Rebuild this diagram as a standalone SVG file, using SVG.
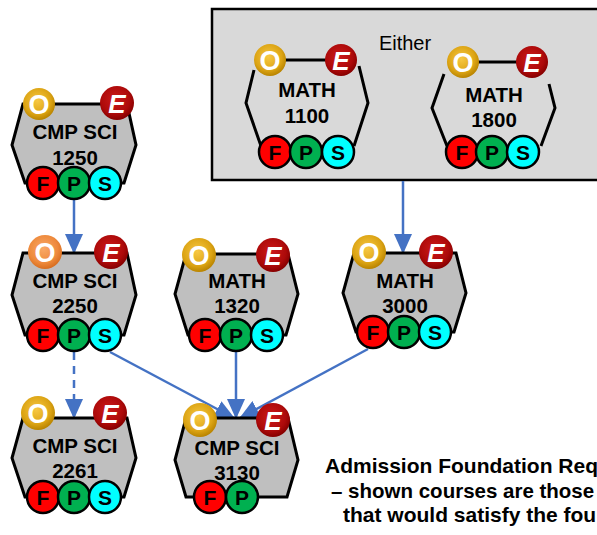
<svg xmlns="http://www.w3.org/2000/svg" width="597" height="535" viewBox="0 0 597 535">
<defs>
<radialGradient id="gO" cx="45%" cy="40%" r="60%">
<stop offset="0" stop-color="#f7c843"/>
<stop offset="0.7" stop-color="#dca414"/>
<stop offset="1" stop-color="#b98400"/>
</radialGradient>
<radialGradient id="gO2" cx="45%" cy="40%" r="60%">
<stop offset="0" stop-color="#f9a868"/>
<stop offset="0.7" stop-color="#ee8a3c"/>
<stop offset="1" stop-color="#d86e20"/>
</radialGradient>
<radialGradient id="gE" cx="45%" cy="40%" r="60%">
<stop offset="0" stop-color="#cc1a1a"/>
<stop offset="0.7" stop-color="#ad0a0a"/>
<stop offset="1" stop-color="#860000"/>
</radialGradient>
<marker id="arr" viewBox="0 0 20 18" refX="19" refY="9" markerWidth="20" markerHeight="18" markerUnits="userSpaceOnUse" orient="auto">
<path d="M0,0 L20,9 L0,18 z" fill="#4472c4"/>
</marker>
</defs>
<style>
.hex{fill:#bfbfbf;stroke:#000;stroke-width:3;stroke-linejoin:miter}
.open{fill:none;stroke:#000;stroke-width:3}
.t{font-family:"Liberation Sans",Arial,sans-serif;font-weight:bold;font-size:20.5px;text-anchor:middle;fill:#000}
.o{fill:url(#gO)}
.o2{fill:url(#gO2)}
.e{fill:url(#gE)}
.ol{font-family:"Liberation Sans",Arial,sans-serif;font-weight:bold;font-size:27px;text-anchor:middle;fill:#fff}
.el{font-family:"Liberation Sans",Arial,sans-serif;font-weight:bold;font-style:italic;font-size:26px;text-anchor:middle;fill:#fff}
.f{fill:#ff0000;stroke:#000;stroke-width:2.5}
.p{fill:#00b050;stroke:#000;stroke-width:2.5}
.s{fill:#00ffff;stroke:#000;stroke-width:2.5}
.cl{font-family:"Liberation Sans",Arial,sans-serif;font-weight:bold;font-size:21px;text-anchor:middle;fill:#000}
.c{stroke:#4472c4;stroke-width:2.5;fill:none;marker-end:url(#arr)}
.note{font-family:"Liberation Sans",Arial,sans-serif;font-weight:bold;font-size:21px;fill:#000}
</style>

<g id="either-box">
<rect x="212" y="9" width="400" height="171" fill="#d9d9d9" stroke="#000" stroke-width="2.5"/>
<text x="405" y="50" font-family="'Liberation Sans',Arial,sans-serif" font-size="20px" text-anchor="middle" fill="#000">Either</text>
</g>

<g id="math1100">
<line x1="270" y1="60" x2="341" y2="60" stroke="#000" stroke-width="3"/>
<path class="open" d="M254,70 L246,103 L261,146"/>
<path class="open" d="M359,66 L368,103 L354,146"/>
<text class="t" x="307" y="97">MATH</text>
<text class="t" x="307" y="123">1100</text>
<circle class="o" cx="270" cy="60" r="16"/><text class="ol" x="270" y="70">O</text>
<circle class="e" cx="341" cy="60" r="16"/><text class="el" x="341" y="69.5">E</text>
<circle class="f" cx="275" cy="152" r="16"/><text class="cl" x="275" y="160">F</text>
<circle class="p" cx="306" cy="152" r="16"/><text class="cl" x="306" y="160">P</text>
<circle class="s" cx="338" cy="152" r="16"/><text class="cl" x="338" y="160">S</text>
</g>

<g id="math1800">
<line x1="463" y1="62" x2="532" y2="62" stroke="#000" stroke-width="3"/>
<path class="open" d="M444,74 L432,108 L447,146"/>
<path class="open" d="M549,84 L555,108 L541,146"/>
<text class="t" x="494" y="102">MATH</text>
<text class="t" x="494" y="127">1800</text>
<circle class="o" cx="463" cy="62" r="16"/><text class="ol" x="463" y="72">O</text>
<circle class="e" cx="532" cy="62" r="16"/><text class="el" x="532" y="71.5">E</text>
<circle class="f" cx="462" cy="152" r="16"/><text class="cl" x="462" y="160">F</text>
<circle class="p" cx="492" cy="152" r="16"/><text class="cl" x="492" y="160">P</text>
<circle class="s" cx="523" cy="152" r="16"/><text class="cl" x="523" y="160">S</text>
</g>

<g id="connectors">
<line class="c" x1="74" y1="200" x2="74" y2="253"/>
<line class="c" x1="74" y1="352" x2="74" y2="418" stroke-dasharray="8,6"/>
<line class="c" x1="110" y1="352" x2="234" y2="418"/>
<line class="c" x1="236" y1="352" x2="236" y2="418"/>
<line class="c" x1="368" y1="349" x2="240" y2="418"/>
<line class="c" x1="403" y1="181" x2="403" y2="253"/>
</g>

<g id="cmpsci1250">
<polygon class="hex" points="23,104 127,104 136,145 124,183 25,183 12,145"/>
<text class="t" x="75" y="139">CMP SCI</text>
<text class="t" x="75" y="165">1250</text>
<circle class="o" cx="39" cy="104" r="16"/><text class="ol" x="39" y="114">O</text>
<circle class="e" cx="117" cy="103" r="17"/><text class="el" x="117" y="112.5">E</text>
<circle class="f" cx="43" cy="183" r="16"/><text class="cl" x="43" y="191">F</text>
<circle class="p" cx="74" cy="183" r="16"/><text class="cl" x="74" y="191">P</text>
<circle class="s" cx="105" cy="183" r="16"/><text class="cl" x="105" y="191">S</text>
</g>

<g id="cmpsci2250">
<polygon class="hex" points="23,253 127,253 136,295 124,335 25,335 12,295"/>
<text class="t" x="75" y="288">CMP SCI</text>
<text class="t" x="75" y="313">2250</text>
<circle class="o2" cx="45" cy="252" r="17"/><text class="ol" x="45" y="262">O</text>
<circle class="e" cx="111" cy="252" r="17"/><text class="el" x="111" y="261.5">E</text>
<circle class="f" cx="43" cy="335" r="16"/><text class="cl" x="43" y="343">F</text>
<circle class="p" cx="74" cy="335" r="16"/><text class="cl" x="74" y="343">P</text>
<circle class="s" cx="105" cy="335" r="16"/><text class="cl" x="105" y="343">S</text>
</g>

<g id="math1320">
<polygon class="hex" points="186,254 288,254 298,294 286,335 188,335 175,294"/>
<text class="t" x="237" y="288">MATH</text>
<text class="t" x="237" y="313">1320</text>
<circle class="o" cx="199" cy="255" r="17"/><text class="ol" x="199" y="265">O</text>
<circle class="e" cx="273" cy="255" r="17"/><text class="el" x="273" y="264.5">E</text>
<circle class="f" cx="205" cy="335" r="16"/><text class="cl" x="205" y="343">F</text>
<circle class="p" cx="236" cy="335" r="16"/><text class="cl" x="236" y="343">P</text>
<circle class="s" cx="267" cy="335" r="16"/><text class="cl" x="267" y="343">S</text>
</g>

<g id="math3000">
<polygon class="hex" points="354,253 456,253 466,293 454,332 356,332 343,293"/>
<text class="t" x="405" y="288">MATH</text>
<text class="t" x="405" y="313">3000</text>
<circle class="o" cx="369" cy="252" r="17"/><text class="ol" x="369" y="262">O</text>
<circle class="e" cx="436" cy="252" r="17"/><text class="el" x="436" y="261.5">E</text>
<circle class="f" cx="373" cy="332" r="16"/><text class="cl" x="373" y="340">F</text>
<circle class="p" cx="404" cy="332" r="16"/><text class="cl" x="404" y="340">P</text>
<circle class="s" cx="435" cy="332" r="16"/><text class="cl" x="435" y="340">S</text>
</g>

<g id="cmpsci2261">
<polygon class="hex" points="23,418 127,418 136,458 124,497 25,497 12,458"/>
<text class="t" x="75" y="453">CMP SCI</text>
<text class="t" x="75" y="478">2261</text>
<circle class="o" cx="38" cy="413" r="17"/><text class="ol" x="38" y="423">O</text>
<circle class="e" cx="110" cy="413" r="17"/><text class="el" x="110" y="422.5">E</text>
<circle class="f" cx="43" cy="497" r="16"/><text class="cl" x="43" y="505">F</text>
<circle class="p" cx="74" cy="497" r="16"/><text class="cl" x="74" y="505">P</text>
<circle class="s" cx="105" cy="497" r="16"/><text class="cl" x="105" y="505">S</text>
</g>

<g id="cmpsci3130">
<polygon class="hex" points="186,418 288,418 298,460 287,497 186,497 175,460"/>
<text class="t" x="237" y="455">CMP SCI</text>
<text class="t" x="237" y="480">3130</text>
<circle class="o" cx="200" cy="420" r="17"/><text class="ol" x="200" y="430">O</text>
<circle class="e" cx="273" cy="420" r="17"/><text class="el" x="273" y="429.5">E</text>
<circle class="f" cx="210" cy="497" r="16"/><text class="cl" x="210" y="505">F</text>
<circle class="p" cx="242" cy="497" r="16"/><text class="cl" x="242" y="505">P</text>
</g>

<g id="note">
<text class="note" x="325" y="473">Admission Foundation Req</text>
<text class="note" x="331" y="498" style="font-size:20.5px">– shown courses are those</text>
<text class="note" x="343" y="522">that would satisfy the fou</text>
</g>
</svg>
